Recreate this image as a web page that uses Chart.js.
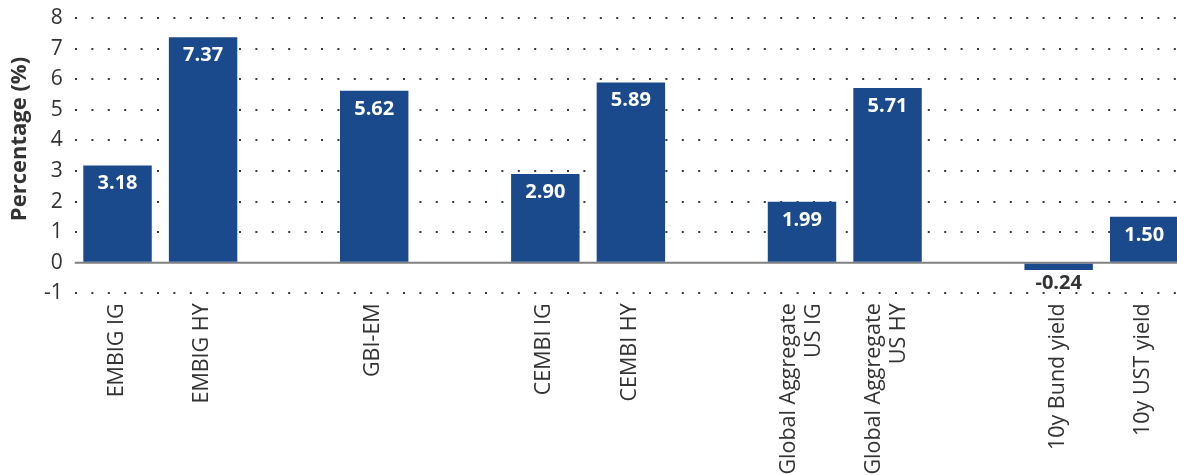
<!DOCTYPE html>
<html>
<head>
<meta charset="utf-8">
<script src="https://cdn.jsdelivr.net/npm/chart.js@4/dist/chart.umd.min.js"></script>
<style>
  html, body { margin: 0; padding: 0; background: #fff; overflow: hidden; }
  #wrap { width: 1187px; height: 475px; }
</style>
</head>
<body>
<div id="wrap"><canvas id="chart" width="1187" height="475"></canvas></div>
<script>
// categories (empty strings are the gaps between groups)
const categories = [
  'EMBIG IG', 'EMBIG HY', '', 'GBI-EM', '', 'CEMBI IG', 'CEMBI HY', '',
  ['Global Aggregate', 'US IG'], ['Global Aggregate', 'US HY'], '',
  '10y Bund yield', '10y UST yield'
];
const values = [3.18, 7.37, null, 5.62, null, 2.90, 5.89, null, 1.99, 5.71, null, -0.24, 1.50];
const yTicks = [-1, 0, 1, 2, 3, 4, 5, 6, 7, 8];

const barColor = '#1a4a8c';
const textColor = '#333333';

// value labels on the bars
const barLabels = {
  id: 'barLabels',
  afterDatasetsDraw(chart) {
    const ctx = chart.ctx;
    const meta = chart.getDatasetMeta(0);
    ctx.save();
    ctx.font = 'bold 20px "Open Sans"';
    ctx.textAlign = 'center';
    ctx.textBaseline = 'middle';
    meta.data.forEach((bar, i) => {
      const v = values[i];
      if (v === null) return;
      if (v >= 0) {
        ctx.fillStyle = '#ffffff';
        ctx.fillText(v.toFixed(2), bar.x, bar.y + 18);
      } else {
        ctx.fillStyle = textColor;
        ctx.fillText(v.toFixed(2), bar.x, bar.y + 13);
      }
    });
    ctx.restore();
  }
};

// solid zero line
const zeroLine = {
  id: 'zeroLine',
  beforeDatasetsDraw(chart) {
    const y = chart.scales.y.getPixelForValue(0);
    const ctx = chart.ctx;
    ctx.save();
    ctx.strokeStyle = '#808080';
    ctx.lineWidth = 2;
    ctx.beginPath();
    ctx.moveTo(chart.chartArea.left, y);
    ctx.lineTo(chart.chartArea.right, y);
    ctx.stroke();
    ctx.restore();
  }
};

// rotated category labels, multi-line ones centred on the tick
const xLabels = {
  id: 'xLabels',
  afterDraw(chart) {
    const xs = chart.scales.x;
    const ctx = chart.ctx;
    const lh = 25;
    ctx.save();
    ctx.font = '21.5px "Open Sans"';
    ctx.fillStyle = textColor;
    ctx.textAlign = 'right';
    ctx.textBaseline = 'middle';
    categories.forEach((lab, i) => {
      const lines = Array.isArray(lab) ? lab : [lab];
      const px = xs.getPixelForTick(i);
      lines.forEach((t, j) => {
        const off = (j - (lines.length - 1) / 2) * lh;
        ctx.save();
        ctx.translate(px + off - 1, chart.chartArea.bottom + 10);
        ctx.rotate(-Math.PI / 2);
        ctx.fillText(t, 0, 0);
        ctx.restore();
      });
    });
    // y axis title
    ctx.font = 'bold 22px "Open Sans"';
    ctx.textAlign = 'center';
    ctx.translate(20, 139);
    ctx.rotate(-Math.PI / 2);
    ctx.fillText('Percentage (%)', 0, 0);
    ctx.restore();
  }
};

new Chart(document.getElementById('chart'), {
  type: 'bar',
  data: {
    labels: categories,
    datasets: [{
      data: values,
      backgroundColor: barColor,
      barPercentage: 0.8,
      categoryPercentage: 1.0
    }]
  },
  options: {
    responsive: false,
    animation: false,
    layout: { padding: { top: 18, right: 0, left: 0, bottom: 0 } },
    plugins: {
      legend: { display: false },
      tooltip: { enabled: false }
    },
    scales: {
      x: {
        grid: { display: false, drawTicks: false },
        border: { display: false },
        ticks: { display: false },
        afterFit(scale) {
          scale.height = 181.7;
          scale.paddingLeft = 0;
          scale.paddingRight = 0;
        }
      },
      y: {
        min: -1,
        max: 8,
        afterBuildTicks(scale) { scale.ticks = yTicks.map(v => ({ value: v })); },
        grid: {
          color: v => v.tick.value === 0 ? 'rgba(0,0,0,0)' : '#3a3a3a',
          lineWidth: 2,
          drawTicks: false
        },
        border: { display: false, dash: [2, 14.4] },
        ticks: {
          color: textColor,
          font: { family: 'Open Sans', size: 21 },
          padding: 12
        },
        afterFit(scale) {
          scale.width = 74.75;
          scale.paddingTop = 0;
          scale.paddingBottom = 0;
        }
      }
    }
  },
  plugins: [zeroLine, barLabels, xLabels]
});
</script>
</body>
</html>
